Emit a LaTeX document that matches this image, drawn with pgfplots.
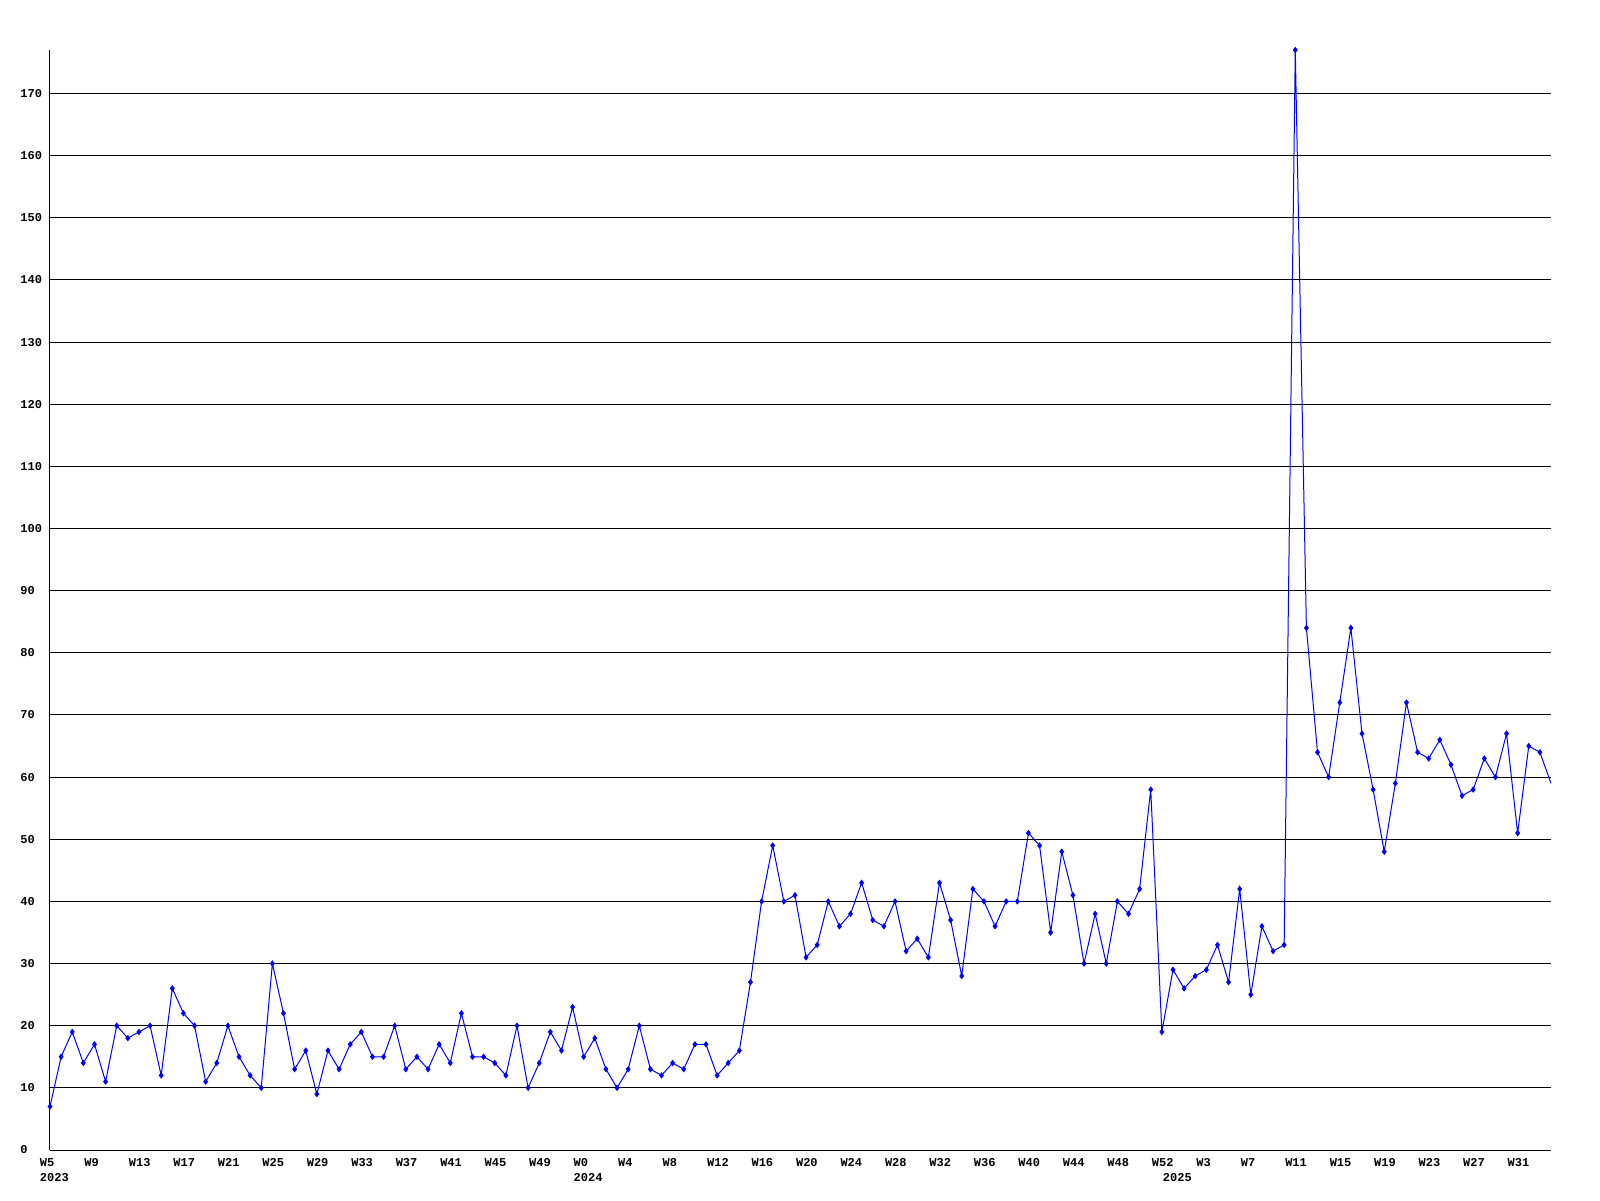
\documentclass[border=0pt]{standalone}
\usepackage{pgfplots}
\pgfplotsset{compat=1.18}
\usepackage{pgfplotstable}
\usepackage{fontspec}
\setmainfont{Liberation Mono}
\pgfplotstableread{
n v
0 7
1 15
2 19
3 14
4 17
5 11
6 20
7 18
8 19
9 20
10 12
11 26
12 22
13 20
14 11
15 14
16 20
17 15
18 12
19 10
20 30
21 22
22 13
23 16
24 9
25 16
26 13
27 17
28 19
29 15
30 15
31 20
32 13
33 15
34 13
35 17
36 14
37 22
38 15
39 15
40 14
41 12
42 20
43 10
44 14
45 19
46 16
47 23
48 15
49 18
50 13
51 10
52 13
53 20
54 13
55 12
56 14
57 13
58 17
59 17
60 12
61 14
62 16
63 27
64 40
65 49
66 40
67 41
68 31
69 33
70 40
71 36
72 38
73 43
74 37
75 36
76 40
77 32
78 34
79 31
80 43
81 37
82 28
83 42
84 40
85 36
86 40
87 40
88 51
89 49
90 35
91 48
92 41
93 30
94 38
95 30
96 40
97 38
98 42
99 58
100 19
101 29
102 26
103 28
104 29
105 33
106 27
107 42
108 25
109 36
110 32
111 33
112 177
113 84
114 64
115 60
116 72
117 84
118 67
119 58
120 48
121 59
122 72
123 64
124 63
125 66
126 62
127 57
128 58
129 63
130 60
131 67
132 51
133 65
134 64
135 59
}\datatable
\begin{document}
\begin{tikzpicture}
\path[use as bounding box] (-25pt,-25pt) rectangle (775pt,575pt);
\begin{axis}[
  at={(0,0)}, anchor=south west,
  scale only axis, width=750.5pt, height=550pt,
  xmin=0, xmax=135, ymin=0, ymax=177,
  axis lines*=left,
  axis line style={black, line width=0.5pt, -},
  major tick length=0pt,
  ytick={0,10,...,170},
  ymajorgrids, grid style={black, line width=0.5pt},
  xtick={0,4,...,132},
  xticklabels={{W5\\2023},W9,W13,W17,W21,W25,W29,W33,W37,W41,W45,W49,{W0\\2024},W4,W8,W12,W16,W20,W24,W28,W32,W36,W40,W44,W48,W52,W3,W7,W11,W15,W19,W23,W27,W31},
  extra x ticks={101},
  extra x tick labels={{\phantom{W}\\2025}},
  extra x tick style={grid=none},
  tick label style={font=\fontsize{6}{7.5}\selectfont\bfseries, inner sep=0pt},
  xticklabel style={anchor=north west, align=left, xshift=-5.2pt, yshift=-4pt},
  yticklabel style={anchor=west, xshift=-15pt},
  /pgf/number format/assume math mode=true,
  clip marker paths=false,
]
\addplot[color={rgb,255:red,0;green,0;blue,255}, line width=0.5pt, no marks] table[x=n, y=v] {\datatable};
\addplot[color={rgb,255:red,0;green,0;blue,255}, only marks, mark=diamond*, mark size=1.3pt, restrict x to domain=0:134.5] table[x=n, y=v] {\datatable};
\end{axis}
\end{tikzpicture}
\end{document}
